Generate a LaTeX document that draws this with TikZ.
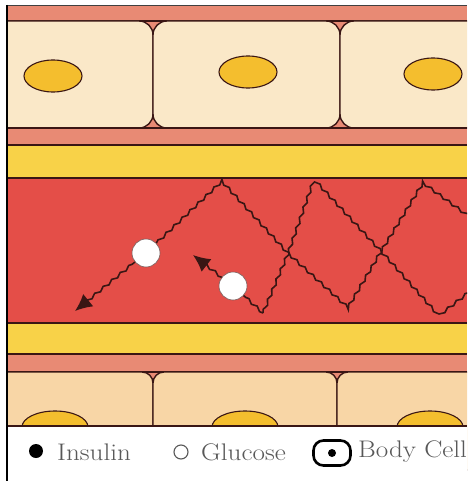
\documentclass[tikz,border=0pt]{standalone}
\usepackage{tikz}
\usetikzlibrary{calc,arrows.meta,decorations.pathmorphing}
\definecolor{tissue}{RGB}{232,138,116}
\definecolor{cellfill}{RGB}{250,232,200}
\definecolor{lowcell}{RGB}{248,214,166}
\definecolor{nucleus}{RGB}{244,190,46}
\definecolor{wall}{RGB}{248,210,72}
\definecolor{blood}{RGB}{228,78,72}
\definecolor{ink}{RGB}{58,22,20}
\definecolor{keytext}{RGB}{88,88,88}

\begin{document}
\begin{tikzpicture}[x=1pt,y=-1pt,
    cellbox/.style={draw=ink,line width=1.4pt,rounded corners=14pt},
    nucl/.style={draw=ink,line width=1.1pt,fill=nucleus},
    wavy/.style={draw=ink,line width=1.6pt,decorate,decoration={snake,amplitude=1.3pt,segment length=11pt}},
    gluc/.style={circle,draw=ink!70,fill=white,minimum size=28pt,inner sep=0pt,line width=0.6pt},
    tip/.style={-{Latex[length=17pt,width=16pt]},ink,line width=1.6pt},
    keyfont/.style={font=\fontsize{24}{26}\selectfont,text=keytext,anchor=west,inner sep=0pt,xscale=1.13}]
  \useasboundingbox(0,0)rectangle(467,481);
  \fill[white](0,0)rectangle(467,481);
  \begin{scope}
    \clip(8,6)rectangle(467,481);
    % tissue and cells above the vessel
    \fill[tissue](8,6)rectangle(467,145);
    \draw[ink,line width=1.4pt](8,21)--(467,21);
    \draw[cellbox,fill=cellfill](-20,21)rectangle(153,128);
    \draw[cellbox,fill=cellfill](153,21)rectangle(340,128);
    \draw[cellbox,fill=cellfill](340,21)rectangle(500,128);
    \draw[ink,line width=1.4pt](8,128)--(467,128);
    \foreach \x/\y in {53/76, 248/72, 433/74}
      \draw[nucl](\x,\y)ellipse(29 and 16);
    % vessel walls and blood
    \fill[wall](8,145)rectangle(467,178);
    \fill[blood](8,178)rectangle(467,323);
    \fill[wall](8,323)rectangle(467,354);
    \foreach \y in {145,178,323}
      \draw[ink,line width=1.2pt](8,\y)--(467,\y);
    % tissue and cells below the vessel
    \fill[tissue](8,354)rectangle(467,426);
    \draw[ink,line width=1.2pt](8,354)--(467,354);
    \draw[ink,line width=1.4pt](8,372)--(467,372);
    \draw[cellbox,fill=lowcell,rounded corners=11pt](-20,372)rectangle(153,470);
    \draw[cellbox,fill=lowcell,rounded corners=11pt](153,372)rectangle(337,470);
    \draw[cellbox,fill=lowcell,rounded corners=11pt](337,372)rectangle(500,470);
    \foreach \x in {55, 245, 430}
      \draw[nucl](\x,427)ellipse(33 and 16);
    % key strip
    \fill[white](8,426)rectangle(467,481);
    \draw[ink,line width=1.4pt](8,426)--(467,426);
  \end{scope}
  \draw[black!75,line width=1pt](7,5.5)--(467,5.5);
  \draw[black,line width=2pt](7,5)--(7,481);

  % insulin paths through the blood
  \node[gluc](g1)at(146,253){};
  \node[gluc](g2)at(233,286){};
  \coordinate(a1)at(75,311);
  \coordinate(a2)at(193,255);
  \coordinate(p1)at(220,183);
  \coordinate(p2)at(313,182);
  \coordinate(p3)at(427,185);
  \coordinate(x1)at(287,256);
  \coordinate(x2)at(383,257);
  \coordinate(b1)at(350,313);
  \coordinate(b2)at(433,313);
  \coordinate(s2)at(263,313);
  \coordinate(e1)at(475,220);
  \coordinate(e2)at(475,280);
  \begin{scope}
    \clip(8,178)rectangle(467,323);
    \draw[wavy]($(a1)!12pt!(g1)$)--(g1);
    \draw[wavy](g1)--(p1)--(x1)--(b1)--(x2)--(p3)--(e1);
    \draw[wavy](s2)--(x1)--(p2)--(x2)--(b2)--(e2);
    \draw[wavy](s2)--(g2);
    \draw[wavy](g2)--($(a2)!12pt!(g2)$);
  \end{scope}
  \draw[tip]($(a1)!17pt!(g1)$)--(a1);
  \draw[tip]($(a2)!17pt!(g2)$)--(a2);

  % key
  \node[circle,fill=black,inner sep=0pt,minimum size=14pt](kins)at(36,451){};
  \node[keyfont](tins)at(57,452){Insulin};
  \node[circle,draw=keytext,line width=1.1pt,inner sep=0pt,minimum width=12pt,minimum height=14pt](kglu)at(181,452){};
  \node[keyfont](tglu)at(201,452){Glucose};
  \node[draw=black,line width=2.6pt,rounded corners=10pt,minimum width=37pt,minimum height=25pt](kcell)at(332,453){};
  \fill(kcell.center)circle(4pt);
  \node[keyfont](tcell)at(358,452){Body Cell};
\end{tikzpicture}
\end{document}
